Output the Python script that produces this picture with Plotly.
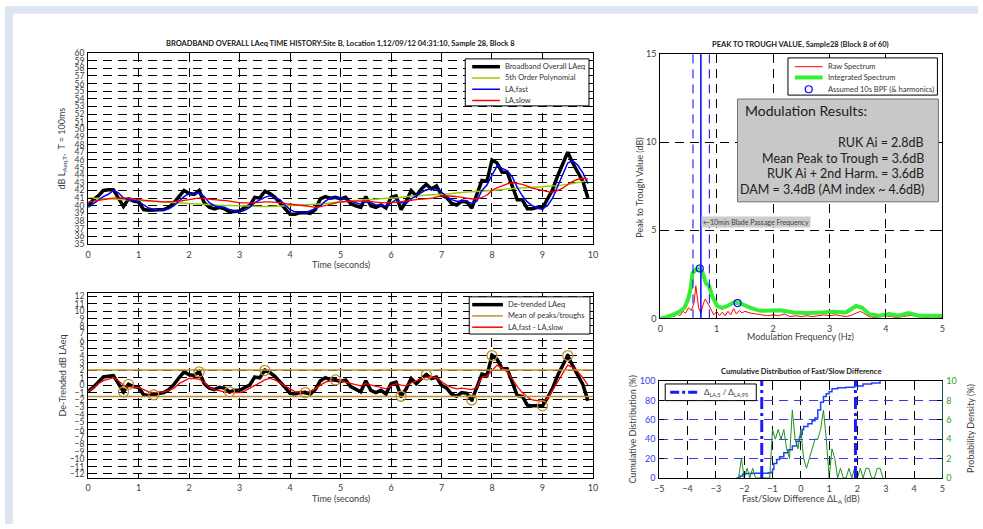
import plotly.graph_objects as go

W, H = 983, 529
def px(x): return x / W
def py(y): return 1 - y / H

# ---------------- DATA ----------------
t = [round(0.1 * i, 1) for i in range(100)]
laeq = [40.0, 40.8, 41.3, 42.0, 42.1, 42.1, 41.0, 39.9, 40.9, 40.6,
        40.5, 39.5, 39.4, 39.4, 39.4, 39.5, 39.8, 40.4, 41.2, 42.0,
        41.6, 41.5, 42.0, 40.4, 39.8, 39.6, 39.8, 39.6, 39.2, 39.3,
        39.3, 39.8, 40.0, 41.1, 41.0, 41.9, 41.6, 41.1, 40.4, 39.6,
        38.9, 38.9, 39.1, 39.1, 39.0, 39.5, 40.9, 41.2, 41.0, 41.1,
        40.9, 41.1, 40.3, 40.0, 39.8, 41.2, 40.0, 39.8, 40.1, 39.7,
        41.1, 41.3, 39.5, 40.6, 42.0, 41.3, 42.2, 42.8, 42.2, 42.6,
        41.4, 41.1, 40.3, 40.1, 40.6, 40.5, 39.7, 41.5, 43.3, 43.2,
        46.0, 45.6, 44.4, 44.4, 42.7, 40.8, 40.8, 39.6, 39.6, 39.8,
        39.7, 40.8, 42.1, 43.9, 45.4, 47.0, 45.6, 44.3, 43.2, 41.0]
la_fast = [39.8, 40.3, 40.8, 41.2, 41.5, 42.0, 41.7, 41.0, 40.8, 40.7,
           40.6, 40.1, 39.7, 39.5, 39.4, 39.5, 39.6, 40.0, 40.6, 41.2,
           41.6, 41.5, 41.7, 41.2, 40.4, 40.0, 39.8, 39.8, 39.5, 39.3,
           39.2, 39.4, 39.8, 40.4, 40.8, 41.1, 41.3, 41.1, 40.8, 40.1,
           39.5, 39.2, 39.2, 39.1, 39.3, 39.6, 40.0, 40.6, 41.0, 41.0,
           41.0, 40.8, 40.6, 40.4, 40.2, 40.5, 40.4, 40.1, 40.1, 39.9,
           40.3, 40.8, 40.4, 40.3, 40.9, 41.3, 41.6, 42.1, 42.2, 42.2,
           41.8, 41.2, 40.8, 40.6, 40.6, 40.6, 40.3, 40.6, 42.0, 42.7,
           44.0, 45.2, 44.9, 44.6, 43.8, 42.4, 41.3, 40.5, 40.0, 39.7,
           39.6, 40.0, 41.0, 42.5, 44.0, 45.6, 45.9, 45.3, 44.3, 42.9]
t_slow = [0.0, 0.3, 0.5, 0.8, 1.0, 1.3, 1.5, 1.8, 2.0, 2.2, 2.5, 2.8, 3.0, 3.3, 3.5,
          3.8, 4.0, 4.3, 4.5, 4.8, 5.0, 5.3, 5.5, 5.8, 6.0, 6.3, 6.5, 6.8, 7.0,
          7.3, 7.5, 7.7, 7.9, 8.0, 8.2, 8.4, 8.6, 8.8, 9.0, 9.2, 9.4, 9.6, 9.8, 9.9]
la_slow = [40.5, 40.8, 41.0, 41.0, 40.8, 40.6, 40.5, 40.6, 40.8, 41.0, 40.8, 40.6, 40.4, 40.4, 40.5,
           40.4, 40.2, 40.0, 39.8, 40.2, 40.5, 40.6, 40.6, 40.4, 40.4, 40.6, 40.8, 41.0, 41.3,
           41.2, 41.0, 40.9, 41.4, 42.0, 42.6, 43.0, 42.8, 42.3, 42.0, 41.8, 42.3, 43.2, 43.6, 43.5]
t_poly = [0.0, 0.5, 1.0, 1.5, 2.0, 2.5, 3.0, 3.5, 4.0, 4.5, 5.0,
          5.5, 6.0, 6.5, 7.0, 7.5, 8.0, 8.5, 9.0, 9.5, 9.9]
poly5 = [41.0, 40.9, 40.7, 40.5, 40.3, 40.1, 40.0, 39.9, 40.0, 40.2, 40.5,
         40.8, 41.0, 41.3, 41.5, 41.8, 42.0, 42.3, 42.5, 42.8, 43.3]

detr = [-0.8, -0.3, 0.4, 1.1, 1.2, 1.3, 0.2, -0.9, 0.1, -0.2,
        -0.3, -1.3, -1.4, -1.3, -1.2, -1.0, -0.6, 0.1, 1.0, 1.8,
        1.4, 1.3, 1.8, 0.2, -0.4, -0.6, -0.3, -0.4, -0.9, -0.7,
        -0.7, -0.3, 0.0, 1.1, 1.0, 2.0, 1.7, 1.2, 0.5, -0.3,
        -1.1, -1.2, -1.0, -1.0, -1.2, -0.6, 0.6, 1.0, 0.7, 0.7,
        0.5, 0.7, -0.2, -0.6, -0.9, 0.6, -0.7, -1.0, -0.7, -1.2,
        0.2, 0.4, -1.5, -0.5, 0.9, 0.2, 0.9, 1.4, 0.9, 1.1,
        0.0, -0.4, -1.2, -1.5, -1.0, -1.1, -2.0, -0.3, 1.5, 1.3,
        4.0, 3.5, 2.2, 2.2, 0.5, -1.4, -1.5, -2.7, -2.8, -2.8,
        -2.8, -1.7, -0.4, 1.3, 2.7, 4.0, 2.6, 1.3, 0.1, -2.1]
fast_minus_slow = [-0.8, -0.4, 0.2, 0.6, 0.8, 1.0, 0.6, 0.0, -0.2, -0.2,
                   -0.3, -0.6, -0.9, -1.0, -1.0, -0.9, -0.7, -0.4, 0.2, 0.6,
                   0.9, 0.9, 0.8, 0.4, -0.3, -0.6, -0.8, -0.9, -1.0, -1.0,
                   -1.0, -0.8, -0.4, 0.0, 0.4, 0.7, 0.9, 0.7, 0.3, -0.1,
                   -0.6, -0.9, -0.9, -1.0, -0.8, -0.5, 0.0, 0.4, 0.6, 0.6,
                   0.6, 0.4, 0.2, 0.0, -0.1, 0.2, 0.0, -0.2, -0.3, -0.5,
                   -0.1, 0.2, 0.0, -0.1, 0.3, 0.6, 0.8, 1.1, 1.1, 1.0,
                   0.5, 0.0, -0.3, -0.5, -0.4, -0.5, -0.6, -0.3, 1.1, 1.2,
                   2.0, 2.7, 2.3, 1.8, 0.9, -0.2, -1.0, -1.6, -2.0, -2.1,
                   -2.2, -1.8, -0.7, 0.4, 1.6, 2.7, 2.4, 1.8, 1.0, 0.0]
pk_t = [0.7, 0.8, 1.3, 2.2, 2.8, 3.5, 4.3, 4.9, 6.2, 6.7, 7.6, 8.0, 9.0, 9.5]
pk_v = [-0.9, 0.1, -1.3, 1.8, -0.9, 2.0, -1.0, 0.7, -1.5, 1.4, -2.0, 4.0, -2.8, 4.0]
mean_peak = 2.05
mean_trough = -1.55

freq_int = [0.0, 0.1, 0.25, 0.35, 0.43, 0.49, 0.54, 0.57, 0.63, 0.69, 0.75, 0.81, 0.87,
            0.92, 1.01, 1.1, 1.19, 1.3, 1.42, 1.6, 1.77, 2.0, 2.13, 2.36, 2.6, 2.88,
            3.06, 3.29, 3.47, 3.58, 3.7, 3.88, 4.05, 4.23, 4.4, 4.58, 4.81, 5.0]
integ = [0.0, 0.05, 0.24, 0.4, 0.6, 1.07, 1.7, 2.55, 2.77, 2.83, 2.6, 2.0, 1.8,
         1.26, 0.7, 0.6, 0.7, 0.9, 0.85, 0.6, 0.43, 0.43, 0.46, 0.33, 0.3, 0.33,
         0.37, 0.33, 0.7, 0.6, 0.24, 0.15, 0.24, 0.15, 0.3, 0.15, 0.15, 0.15]
freq_raw = [0.0, 0.1, 0.2, 0.25, 0.3, 0.35, 0.4, 0.45, 0.5, 0.55, 0.6, 0.63, 0.68, 0.72,
            0.77, 0.8, 0.85, 0.9, 0.95, 1.0, 1.05, 1.1, 1.15, 1.2, 1.25, 1.3, 1.35, 1.4,
            1.45, 1.5, 1.6, 1.7, 1.8, 1.9, 2.0, 2.1, 2.2, 2.3, 2.4, 2.5, 2.6, 2.7, 2.8,
            2.9, 3.0, 3.1, 3.2, 3.3, 3.4, 3.5, 3.55, 3.6, 3.7, 3.8, 3.9, 4.0, 4.1, 4.2,
            4.3, 4.4, 4.5, 4.6, 4.7, 4.8, 4.9, 5.0]
raw = [0.0, 0.05, 0.2, 0.1, 0.25, 0.15, 0.4, 0.3, 0.6, 0.45, 0.9, 1.85, 0.6, 0.3,
       0.9, 1.1, 0.8, 0.5, 0.2, 0.4, 0.15, 0.35, 0.15, 0.4, 0.2, 0.55, 0.25, 0.45,
       0.3, 0.4, 0.3, 0.25, 0.2, 0.15, 0.2, 0.15, 0.25, 0.1, 0.15, 0.1, 0.15, 0.1, 0.15,
       0.2, 0.15, 0.2, 0.15, 0.1, 0.2, 0.35, 0.4, 0.3, 0.1, 0.05, 0.1, 0.15, 0.1, 0.05,
       0.1, 0.15, 0.2, 0.1, 0.05, 0.1, 0.05, 0.05]
bpf_f = [0.70, 1.37]
bpf_v = [2.83, 0.87]
bpf_main = 0.72
bpf_lo, bpf_hi = 0.58, 0.87

dl_cum = [-2.25, -2.15, -2.05, -1.95, -1.7, -1.4, -1.15, -1.05, -1.0, -0.95, -0.85, -0.75,
          -0.6, -0.45, -0.3, -0.15, -0.05, 0.0, 0.05, 0.1, 0.25, 0.4, 0.5, 0.6, 0.7, 0.8,
          0.9, 1.0, 1.1, 1.3, 1.6, 1.9, 2.2, 2.5, 2.8]
cum = [0, 2, 4, 4.5, 4.8, 5, 5.5, 6, 9, 15, 19, 22,
       26, 29, 33, 38, 42, 45, 50, 53, 56, 59, 62, 70, 78, 84,
       87, 89, 92, 93, 93.5, 95, 97, 98, 100]
dl_pdf = [-2.3, -2.2, -2.1, -2.0, -1.9, -1.8, -1.7, -1.6, -1.5, -1.4, -1.3, -1.2, -1.1,
          -1.0, -0.9, -0.8, -0.7, -0.6, -0.5, -0.4, -0.3, -0.2, -0.1, 0.0, 0.1, 0.2,
          0.3, 0.4, 0.5, 0.6, 0.7, 0.8, 0.9, 1.0, 1.1, 1.2, 1.3, 1.4, 1.5, 1.6, 1.7,
          1.8, 1.9, 2.0, 2.1, 2.2, 2.3, 2.4, 2.5, 2.6, 2.7, 2.8, 2.9]
pdf = [0, 0, 2, 0, 1, 0, 1, 0, 0, 0, 0, 0, 0,
       5, 4, 5, 4, 5, 3, 2, 7, 4, 3, 5, 2, 1,
       2, 3, 4, 4, 5, 7, 4, 0, 3, 2, 0, 1, 0, 0, 1,
       0, 1, 0, 1, 0, 1, 1, 0, 0, 1, 1, 0]
dla5, dla95 = -1.38, 1.93

# ---------------- STYLE ----------------
FONT = "Lato"
TXT = "#404040"
GOLD = "#c0902a"
YG = "#99cc00"
FRAME = "#dde6f0"

fig = go.Figure()
# top-left
fig.add_trace(go.Scatter(x=t, y=laeq, mode="lines", line=dict(color="black", width=3.5), xaxis="x", yaxis="y"))
fig.add_trace(go.Scatter(x=t_poly, y=poly5, mode="lines", line=dict(color=YG, width=1.5, shape="spline"), xaxis="x", yaxis="y"))
fig.add_trace(go.Scatter(x=t, y=la_fast, mode="lines", line=dict(color="#0000ff", width=1.5), xaxis="x", yaxis="y"))
fig.add_trace(go.Scatter(x=t_slow, y=la_slow, mode="lines", line=dict(color="#ff0000", width=1.3, shape="spline"), xaxis="x", yaxis="y"))
# bottom-left
fig.add_trace(go.Scatter(x=t, y=detr, mode="lines", line=dict(color="black", width=3.5), xaxis="x2", yaxis="y2"))
fig.add_trace(go.Scatter(x=t, y=fast_minus_slow, mode="lines", line=dict(color="#ff0000", width=1.3), xaxis="x2", yaxis="y2"))
fig.add_trace(go.Scatter(x=pk_t, y=pk_v, mode="markers", marker=dict(symbol="circle-open", size=10, color=GOLD, line=dict(width=1.3)), xaxis="x2", yaxis="y2"))
fig.add_trace(go.Scatter(x=pk_t, y=pk_v, mode="markers", marker=dict(symbol="circle", size=4, color="black"), xaxis="x2", yaxis="y2"))
# top-right
fig.add_trace(go.Scatter(x=freq_raw, y=raw, mode="lines", line=dict(color="#ff0000", width=1), xaxis="x3", yaxis="y3"))
fig.add_trace(go.Scatter(x=freq_int, y=integ, mode="lines", line=dict(color="#33ee33", width=4), xaxis="x3", yaxis="y3"))
fig.add_trace(go.Scatter(x=bpf_f, y=bpf_v, mode="markers", marker=dict(symbol="circle-open", size=7, color="#0000ff", line=dict(width=1.2)), xaxis="x3", yaxis="y3"))
# bottom-right
fig.add_trace(go.Scatter(x=dl_pdf, y=pdf, mode="lines", line=dict(color="#1f8f1f", width=1), xaxis="x4", yaxis="y5"))
fig.add_trace(go.Scatter(x=dl_cum, y=cum, mode="lines", line=dict(color="#1f3fff", width=1.5, shape="hv"), xaxis="x4", yaxis="y4"))

def ax(domain, rng, dtick, anchor, tickcolor=TXT, gridcolor="black", showgrid=True, size=9, **kw):
    d = dict(domain=domain, range=rng, dtick=dtick, tick0=rng[0] if dtick else None, anchor=anchor,
             showline=True, linecolor="black", linewidth=1, mirror="ticks",
             ticks="inside", ticklen=5, tickcolor="black", tickwidth=1,
             showgrid=showgrid, gridcolor=gridcolor, griddash="9px,6px", gridwidth=1,
             zeroline=False, tickfont=dict(family=FONT, size=size, color=tickcolor),
             fixedrange=True)
    d.update(kw)
    return d

xl = [px(84), px(594)]
fig.update_layout(
    width=W, height=H, margin=dict(l=0, r=0, t=0, b=0),
    paper_bgcolor="white", plot_bgcolor="white", showlegend=False,
    font=dict(family=FONT, color=TXT),
    xaxis=ax(xl, [0, 10], 1, "y", ticklabelstandoff=2),
    yaxis=ax([py(243), py(48)], [35, 60], 1, "x", size=8.5, ticklabelstandoff=1),
    xaxis2=ax(xl, [0, 10], 1, "y2", ticklabelstandoff=2),
    yaxis2=ax([py(481.7), py(292.7)], [-12.5, 12.5], 1, "x2", size=8.5, tick0=0, ticklabelstandoff=1),
    xaxis3=ax([px(662), px(947)], [0, 5], 1, "y3", ticklabelstandoff=2),
    yaxis3=ax([py(319), py(49)], [0, 15], 5, "x3", ticklabelstandoff=1),
    xaxis4=ax([px(661), px(947)], [-5, 5], 1, "y4", ticklabelstandoff=2),
    yaxis4=ax([py(482), py(383)], [0, 100], 20, "x4", tickcolor="#3a3af0", gridcolor="#3a3af0",
              mirror=False, ticklabelstandoff=1),
    yaxis5=ax([py(482), py(383)], [0, 10], 2, "x4", tickcolor="#2ca02c", showgrid=False,
              overlaying="y4", side="right", mirror=False, linecolor="#1f4a5a", ticklabelstandoff=1),
)

shapes = []
# light frame strips (left and top)
shapes.append(dict(type="rect", xref="paper", yref="paper", x0=0, x1=px(8), y0=0, y1=1,
                   fillcolor=FRAME, line=dict(width=0), layer="below"))
shapes.append(dict(type="rect", xref="paper", yref="paper", x0=0, x1=1, y0=py(8), y1=1,
                   fillcolor=FRAME, line=dict(width=0), layer="below"))
# mean peaks / troughs
for v in (mean_peak, mean_trough):
    shapes.append(dict(type="line", xref="x2 domain", yref="y2", x0=0, x1=1, y0=v, y1=v,
                       line=dict(color=GOLD, width=1.5)))
# BPF lines
shapes.append(dict(type="line", xref="x3", yref="y3 domain", x0=bpf_main, x1=bpf_main, y0=0, y1=1,
                   line=dict(color="#0000ff", width=1.5)))
for v in (bpf_lo, bpf_hi):
    shapes.append(dict(type="line", xref="x3", yref="y3 domain", x0=v, x1=v, y0=0, y1=1,
                       line=dict(color="#0000ff", width=1, dash="9px,6px")))
# dL5 / dL95
for v in (dla5, dla95):
    shapes.append(dict(type="line", xref="x4", yref="y4 domain", x0=v, x1=v, y0=0, y1=1,
                       line=dict(color="#1a1aff", width=3, dash="12px,4px,3px,4px")))

ann = []
def text(x, y, s, size=9, color=TXT, xanchor="center", yanchor="middle", angle=0, bold=False, **kw):
    if bold:
        s = "<b>" + s + "</b>"
    ann.append(dict(xref="paper", yref="paper", x=px(x), y=py(y), text=s, showarrow=False,
                    xanchor=xanchor, yanchor=yanchor, textangle=angle,
                    font=dict(family=FONT, size=size, color=color), **kw))

def legend(box, entries, sx0, sx1, tx, size=7.5):
    x0, y0, x1, y1 = box
    shapes.append(dict(type="rect", xref="paper", yref="paper", x0=px(x0), x1=px(x1), y0=py(y1), y1=py(y0),
                       fillcolor="white", line=dict(color="black", width=1)))
    for (yy, label, color, width, dash) in entries:
        if width:
            shapes.append(dict(type="line", xref="paper", yref="paper", x0=px(sx0), x1=px(sx1), y0=py(yy), y1=py(yy),
                               line=dict(color=color, width=width, dash=dash)))
        else:
            shapes.append(dict(type="circle", xref="paper", yref="paper", xsizemode="pixel", ysizemode="pixel",
                               xanchor=px((sx0 + sx1) / 2), yanchor=py(yy), x0=-3.5, x1=3.5, y0=-3.5, y1=3.5,
                               line=dict(color=color, width=1.2)))
        text(tx, yy, label, size=size, color="#333333", xanchor="left")

legend((465, 54, 590, 102), [
    (62, "Broadband Overall LAeq", "black", 3.5, "solid"),
    (73.5, "5th Order Polynomial", YG, 1.5, "solid"),
    (85, "LA,fast", "#0000ff", 1.5, "solid"),
    (96.5, "LA,slow", "#ff0000", 1.5, "solid")], 472, 500, 503)
legend((469, 297, 591, 335), [
    (305, "De-trended LAeq", "black", 3.5, "solid"),
    (316.5, "Mean of peaks/troughs", GOLD, 1.5, "solid"),
    (328, "LA,fast - LA,slow", "#ff0000", 1.5, "solid")], 472, 503, 506)
legend((791, 53, 942, 91), [
    (62, "Raw Spectrum", "#ff0000", 1, "solid"),
    (73, "Integrated Spectrum", "#33ee33", 4, "solid"),
    (85, "Assumed 10s BPF (&amp; harmonics)", "#0000ff", 0, "solid")], 798, 826, 829)
legend((667, 386, 759, 403), [
    (394.5, "Δ<sub>LA,5</sub> / Δ<sub>LA,95</sub>", "#1a1aff", 3, "9px,3px,3px,3px")], 672, 700, 704, size=8)

# modulation results box
shapes.append(dict(type="rect", xref="paper", yref="paper", x0=px(740), x1=px(943), y0=py(200), y1=py(95),
                   fillcolor="#c8c8c8", line=dict(color="#707070", width=1)))
text(746, 107, "Modulation Results:", size=14, color="#202020", xanchor="left")
for yy, s in ((139, "RUK Ai = 2.8dB"), (156, "Mean Peak to Trough = 3.6dB"),
              (171, "RUK Ai + 2nd Harm. = 3.6dB"), (187, "DAM = 3.4dB (AM index ~ 4.6dB)")):
    text(930, yy, s, size=12.5, color="#202020", xanchor="right")
# BPF annotation
ann.append(dict(xref="x3", yref="paper", x=bpf_main, y=py(220.5), xanchor="left", yanchor="middle",
                text="←10min Blade Passage Frequency", showarrow=False, bgcolor="#cccccc",
                font=dict(family=FONT, size=7, color="#404040"), borderpad=1))

# titles
text(339, 38, "BROADBAND OVERALL LAeq TIME HISTORY:Site B, Location 1,12/09/12 04:31:10, Sample 28, Block 8", size=7.5, color="#202020", bold=True)
text(804, 39, "PEAK TO TROUGH VALUE, Sample28 (Block 8 of 60)", size=7.5, color="#202020", bold=True)
text(804, 373, "Cumulative Distribution of Fast/Slow Difference", size=7.5, color="#202020", bold=True)
# axis titles
text(339, 264, "Time (seconds)", size=9)
text(339, 503, "Time (seconds)", size=9)
text(804, 338, "Modulation Frequency (Hz)", size=9)
text(804, 503, "Fast/Slow Difference ΔL<sub>A</sub> (dB)", size=9)
text(58, 145, "dB L<sub>Aeq,T</sub>,  T = 100ms", size=9, angle=-90)
text(58, 377, "De-Trended dB LAeq", size=9, angle=-90)
text(641, 185, "Peak to Trough Value (dB)", size=9, angle=-90)
text(633, 432, "Cumulative Distribution (%)", size=9, angle=-90)
text(975, 432, "Probability Density (%)", size=9, angle=-90)

fig.update_layout(shapes=shapes, annotations=ann)
fig.write_html("out.html", config={"displayModeBar": False},
               post_script="document.body.style.margin='0';document.body.style.overflow='hidden';document.body.style.background='#ffffff';")
